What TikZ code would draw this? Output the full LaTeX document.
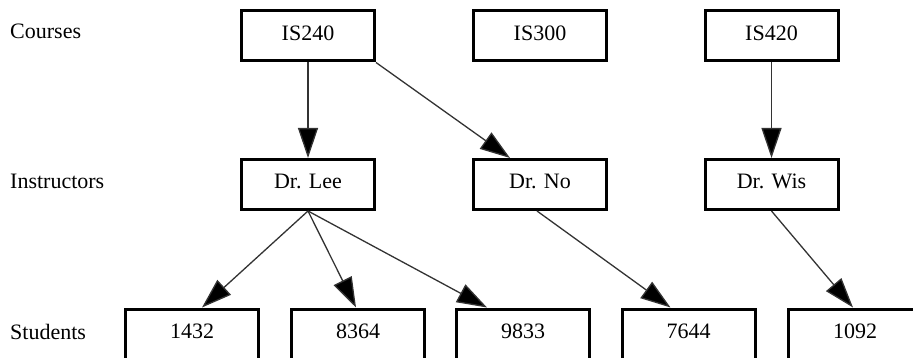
\documentclass[tikz,border=0pt]{standalone}
\usepackage{fontspec}
\setmainfont{Liberation Serif}
\usetikzlibrary{arrows.meta,calc}

\tikzset{
  entity/.style={draw=black, line width=3pt, rectangle, minimum width=133pt,
    minimum height=50pt, inner sep=0pt, text height=15pt, text depth=6pt,
    font=\fontsize{22}{26}\selectfont},
  rowlabel/.style={anchor=base west, inner sep=0pt, font=\fontsize{22}{26}\selectfont},
  link/.style={draw=black!80, line width=1.3pt,
    -{Triangle[length=30pt,width=20pt,fill=black]}},
  plain/.style={draw=black!80, line width=1.3pt}
}

\begin{document}
\begin{tikzpicture}[x=1pt,y=-1pt]
  \useasboundingbox (0,0) rectangle (913,358);
  \clip (0,0) rectangle (913,358);

  % row captions
  \node[rowlabel] (lcourses) at (10,39) {Courses};
  \node[rowlabel] (linstr) at (10,189) {Instructors};
  \node[rowlabel] (lstud) at (10,339) {Students};

  % courses
  \node[entity] (is240) at (308,36) {IS240};
  \node[entity] (is300) at (540,36) {IS300};
  \node[entity] (is420) at (771.5,36) {IS420};

  % instructors
  \node[entity] (lee) at (308,184.5) {Dr. Lee};
  \node[entity] (no)  at (540,184.5) {Dr. No};
  \node[entity] (wis) at (771.5,184.5) {Dr. Wis};

  % students
  \node[entity] (s1432) at (192,334) {1432};
  \node[entity] (s8364) at (358,334) {8364};
  \node[entity] (s9833) at (523,334) {9833};
  \node[entity] (s7644) at (688.5,334) {7644};
  \node[entity] (s1092) at (855,334) {1092};

  % course -> instructor
  \draw[link] (is240.south) -- (lee.north);
  \draw[link] (is240.south east) -- ($(no.north)+(-30,0)$);
  \draw[link] (is420.south) -- (wis.north);

  % instructor -> student
  \draw[link] (lee.south) -- ($(s1432.north)+(10,0)$);
  \draw[link] (lee.south) -- ($(s8364.north)+(-2,0)$);
  \draw[link] (lee.south) -- ($(s9833.north)+(-36,0)$);
  \draw[link] ($(no.south)+(-3,0)$) -- ($(s7644.north)+(-18,0)$);
  \draw[link] (wis.south) -- ($(s1092.north)+(-2,0)$);
\end{tikzpicture}
\end{document}
